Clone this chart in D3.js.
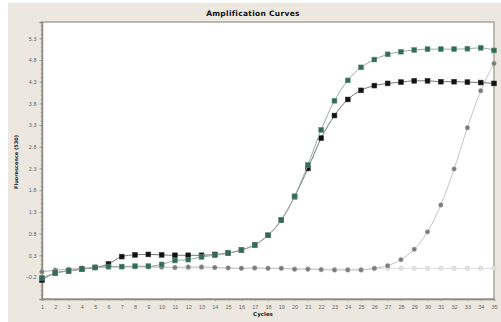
<!DOCTYPE html>
<html>
<head>
<meta charset="utf-8">
<script src="https://cdn.jsdelivr.net/npm/d3@7"></script>
<style>
  body { margin: 0; background: #fff; }
  svg { display: block; }
</style>
</head>
<body>
<div id="chart"></div>
<script>
// cycles and fluorescence readings (530) per sample
const cycles = [1,2,3,4,5,6,7,8,9,10,11,12,13,14,15,16,17,18,19,20,21,22,23,24,25,26,27,28,29,30,31,32,33,34,35]
const sampleBlack = [-0.27,-0.11,-0.06,-0.02,0.02,0.10,0.27,0.31,0.32,0.31,0.30,0.30,0.30,0.32,0.35,0.42,0.54,0.76,1.11,1.65,2.30,3.00,3.52,3.89,4.10,4.21,4.26,4.29,4.32,4.32,4.30,4.30,4.29,4.28,4.26]
const sampleGreen = [-0.22,-0.11,-0.06,-0.02,0.02,0.04,0.04,0.05,0.05,0.09,0.18,0.20,0.26,0.30,0.35,0.42,0.54,0.76,1.12,1.66,2.38,3.19,3.86,4.33,4.63,4.81,4.93,4.99,5.03,5.05,5.05,5.05,5.06,5.08,5.02]
const sampleGray = [-0.08,-0.04,-0.02,0.01,0.02,0.03,0.04,0.04,0.04,0.03,0.02,0.03,0.03,0.02,0.01,0.00,0.01,0.00,0.00,-0.02,-0.02,-0.03,-0.04,-0.04,-0.04,0.00,0.06,0.20,0.44,0.84,1.46,2.29,3.24,4.09,4.72]
const negControl = [-0.08,-0.05,-0.03,0.00,0.01,0.02,0.02,0.02,0.02,0.02,0.01,0.01,0.01,0.01,0.00,0.00,0.00,0.00,0.00,-0.01,-0.01,-0.02,-0.02,-0.02,-0.02,-0.01,0.00,0.00,0.00,0.00,0.00,0.00,0.00,0.00,0.00]
const yTicks = [-0.2,0.3,0.8,1.3,1.8,2.3,2.8,3.3,3.8,4.3,4.8,5.3]

const W = 501, H = 322
const margin = { top: 22, right: 7, bottom: 23, left: 42 }

const svg = d3.select("#chart")
  .append("svg")
  .attr("width", W)
  .attr("height", H)

// beige window panel
svg.append("rect")
  .attr("x", 8).attr("y", 3)
  .attr("width", W - 8).attr("height", H - 3)
  .attr("fill", "#ece8df")

// title
svg.append("text")
  .attr("x", 253).attr("y", 16)
  .attr("text-anchor", "middle")
  .attr("font-family", "DejaVu Sans")
  .attr("font-weight", "bold")
  .attr("font-size", "7.5px")
  .attr("letter-spacing", "0.3px")
  .attr("fill", "#111")
  .text("Amplification Curves")

var x = d3.scaleLinear()
  .domain([1, 35])
  .range([margin.left, W - margin.right])

var y = d3.scaleLinear()
  .domain([-0.707, 5.675])
  .range([H - margin.bottom, margin.top])

// plot area
svg.append("rect")
  .attr("x", margin.left).attr("y", margin.top)
  .attr("width", W - margin.right - margin.left)
  .attr("height", H - margin.bottom - margin.top)
  .attr("fill", "#fff")
  .attr("stroke", "#a9a59c")
  .attr("stroke-width", 1.5)

// minor ticks on the y axis
svg.append("g")
  .attr("transform", "translate(" + margin.left + ",0)")
  .call(d3.axisLeft(y).ticks(60).tickSize(1.5).tickFormat(""))
  .call(g => g.select(".domain").remove())
  .selectAll(".tick line").attr("stroke", "#aaa")

// axes
const yAxis = svg.append("g")
  .attr("transform", "translate(" + margin.left + ",0)")
  .call(d3.axisLeft(y).tickValues(yTicks).tickSize(2.5).tickFormat(d3.format(".1f")))
yAxis.select(".domain").attr("stroke", "#8e8a82").attr("stroke-width", 1.5)
yAxis.selectAll(".tick line").attr("stroke", "#999")
yAxis.selectAll("text")
  .attr("font-family", "Liberation Sans")
  .attr("font-size", "5.5px")
  .attr("fill", "#666")

const xAxis = svg.append("g")
  .attr("transform", "translate(0," + (H - margin.bottom) + ")")
  .call(d3.axisBottom(x).tickValues(cycles).tickSize(2).tickFormat(d3.format("d")))
xAxis.select(".domain").attr("stroke", "#8e8a82").attr("stroke-width", 1.5)
xAxis.selectAll(".tick line").attr("stroke", "#999")
xAxis.selectAll("text")
  .attr("font-family", "Liberation Sans")
  .attr("font-size", "5.5px")
  .attr("fill", "#666")
  .attr("dy", "0.9em")

// axis labels
svg.append("text")
  .attr("x", 263).attr("y", 316)
  .attr("text-anchor", "middle")
  .attr("font-family", "DejaVu Sans")
  .attr("font-weight", "bold")
  .attr("font-size", "5.5px")
  .attr("fill", "#222")
  .text("Cycles")

svg.append("text")
  .attr("transform", "translate(18,162) rotate(-90)")
  .attr("text-anchor", "middle")
  .attr("font-family", "DejaVu Sans")
  .attr("font-weight", "bold")
  .attr("font-size", "5px")
  .attr("fill", "#222")
  .text("Fluorescence (530)")

// series
const series = [
  { values: negControl, line: "#dcdcdc", fill: "#e2e2e2", stroke: "#d0d0d0", shape: "circle" },
  { values: sampleGray, line: "#c4c4c4", fill: "#7a7a7a", stroke: "#9a9a9a", shape: "circle" },
  { values: sampleBlack, line: "#777", fill: "#111", stroke: "#333", shape: "square" },
  { values: sampleGreen, line: "#9aaca5", fill: "#2f6b55", stroke: "#5f8a7a", shape: "square" }
]

const line = d3.line()
  .x((d, i) => x(cycles[i]))
  .y(d => y(d))
  .curve(d3.curveMonotoneX)

series.forEach(function (s) {
  svg.append("path")
    .datum(s.values)
    .attr("d", line)
    .attr("fill", "none")
    .attr("stroke", s.line)
    .attr("stroke-width", 1)

  const pts = s.values.map((v, i) => ({ c: cycles[i], v: v }))
  if (s.shape == "circle") {
    svg.selectAll(null)
      .data(pts)
      .enter()
      .append("circle")
      .attr("cx", d => x(d.c))
      .attr("cy", d => y(d.v))
      .attr("r", 2.2)
      .attr("fill", s.fill)
      .attr("stroke", s.stroke)
      .attr("stroke-width", 0.6)
  } else {
    svg.selectAll(null)
      .data(pts)
      .enter()
      .append("rect")
      .attr("x", d => x(d.c) - 2.4)
      .attr("y", d => y(d.v) - 2.4)
      .attr("width", 4.8)
      .attr("height", 4.8)
      .attr("fill", s.fill)
      .attr("stroke", s.stroke)
      .attr("stroke-width", 0.6)
  }
})
</script>
</body>
</html>
